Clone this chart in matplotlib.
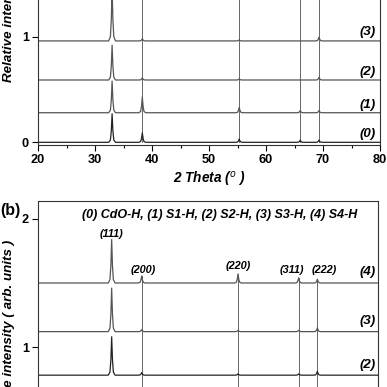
import matplotlib
matplotlib.use("Agg")
import matplotlib.pyplot as plt
import numpy as np

plt.rcParams['font.family'] = ['Liberation Sans', 'DejaVu Sans']

# ---- data ----
peak_pos = [33.0, 38.3, 55.3, 66.0, 69.3]
hkl = ['(111)', '(200)', '(220)', '(311)', '(222)']

# panel (a): offsets and peak heights per trace
a_labels = ['(0)', '(1)', '(2)', '(3)']
a_offsets = [0.0, 0.28, 0.59, 0.96]
a_heights = [
    [0.27, 0.09, 0.03, 0.02, 0.02],
    [0.30, 0.15, 0.05, 0.02, 0.02],
    [0.33, 0.02, 0.01, 0.00, 0.025],
    [0.50, 0.02, 0.01, 0.00, 0.035],
]
a_label_y = [0.079, 0.353, 0.666, 1.045]

# panel (b)
b_labels = ['(2)', '(3)', '(4)']
b_offsets = [0.78, 1.12, 1.50]
b_heights = [
    [0.30, 0.02, 0.01, 0.01, 0.03],
    [0.34, 0.015, 0.01, 0.01, 0.03],
    [0.34, 0.055, 0.07, 0.04, 0.03],
]
b_label_y = [0.86, 1.203, 1.586]
hkl_x = [33.0, 38.5, 55.3, 64.8, 70.6]
hkl_y = [1.88, 1.60, 1.63, 1.60, 1.60]
b_title = '(0) CdO-H, (1) S1-H, (2) S2-H, (3) S3-H, (4) S4-H'

# peak shape (style)
shape_dx = [-0.6, -0.3, -0.14, 0.0, 0.14, 0.3, 0.6]
shape_fr = [0.0, 0.08, 0.4, 1.0, 0.4, 0.08, 0.0]


def trace(offset, heights, x0=20, x1=80):
    xs = [x0]
    ys = [offset]
    for p, h in zip(peak_pos, heights):
        for dx, fr in zip(shape_dx, shape_fr):
            xs.append(p + dx)
            ys.append(offset + h * fr)
    xs.append(x1)
    ys.append(offset)
    return xs, ys


W, H = 387, 387
fig = plt.figure(figsize=(W / 100, H / 100), dpi=100)


def ax_rect(left, right, top, bottom):
    return [left / W, 1 - bottom / H, (right - left) / W, (bottom - top) / H]


TXT = dict(fontweight='bold', fontstyle='italic')
TRACE_C = '#555555'
VLINE_C = '#666666'

# --- panel (a) ---
a_ymin = -2.7 / 105.6
a_ymax = 1.6
a_top_px = 142.3 - a_ymax * 105.6
axa = fig.add_axes(ax_rect(38, 380, a_top_px, 145))
axa.set_xlim(20, 80)
axa.set_ylim(a_ymin, a_ymax)
for p in peak_pos[1:]:
    axa.plot([p, p], [0, a_ymax], color=VLINE_C, lw=0.7, zorder=1)
for i, (off, hs) in enumerate(zip(a_offsets, a_heights)):
    xs, ys = trace(off, hs)
    axa.plot(xs, ys, color='#222222' if i == 0 else TRACE_C, lw=0.9, zorder=2)
for lab, ly in zip(a_labels, a_label_y):
    axa.text(79.3, ly, lab, ha='right', va='center', fontsize=9.5, **TXT)
axa.set_xticks([20, 30, 40, 50, 60, 70, 80])
axa.set_xticks([25, 35, 45, 55, 65, 75], minor=True)
axa.set_yticks([0, 1])
axa.tick_params(axis='both', which='major', direction='out', length=4, width=0.8,
                labelsize=9.2, pad=2.5)
axa.tick_params(axis='both', which='minor', direction='out', length=2.5, width=0.8)
for lbl in axa.get_xticklabels() + axa.get_yticklabels():
    lbl.set_fontweight('bold')
axa.set_xlabel(r'2 Theta ($^{o}$ )', fontsize=9.8, labelpad=3, **TXT)
fig.text(9 / W, 1 - 82 / H, 'Relative intensity ( arb. units )', rotation=90,
         ha='center', va='bottom', fontsize=9.6, **TXT)

# --- panel (b) ---
b_ymax = 1 + (347 - 201) / 128
b_ymin = -0.1
b_bot_px = 347 + (1 - b_ymin) * 128
axb = fig.add_axes(ax_rect(38, 378, 201, b_bot_px))
axb.set_xlim(20, 80)
axb.set_ylim(b_ymin, b_ymax)
for p, h in zip(peak_pos[1:], b_heights[-1][1:]):
    axb.plot([p, p], [b_ymin, b_offsets[-1] + h], color=VLINE_C, lw=0.7, zorder=1)
for i, (off, hs) in enumerate(zip(b_offsets, b_heights)):
    xs, ys = trace(off, hs)
    axb.plot(xs, ys, color='#222222' if i == 0 else TRACE_C, lw=0.9, zorder=2)
for lab, ly in zip(b_labels, b_label_y):
    axb.text(79.5, ly, lab, ha='right', va='center', fontsize=9.5, **TXT)
for lab, hx, hy in zip(hkl, hkl_x, hkl_y):
    axb.text(hx, hy, lab, ha='center', va='center', fontsize=7.8, **TXT)
axb.text(52.1, 2.03, b_title, ha='center', va='center', fontsize=9, **TXT)
axb.set_xticks([20, 30, 40, 50, 60, 70, 80])
axb.set_yticks([1, 2])
axb.tick_params(axis='both', which='major', direction='out', length=4, width=0.8,
                labelsize=9.2, pad=2.5)
axb.tick_params(axis='x', labelbottom=False)
for lbl in axb.get_yticklabels():
    lbl.set_fontweight('bold')
fig.text(9 / W, 1 - 240 / H, 'Relative intensity ( arb. units )', rotation=90,
         ha='center', va='top', fontsize=9.6, **TXT)
fig.text(0 / W, 1 - 210 / H, '(b)', ha='left', va='center', fontsize=11.5,
         fontweight='bold')

for ax in (axa, axb):
    for s in ax.spines.values():
        s.set_linewidth(0.8)
        s.set_color('#333333')

fig.savefig('out.png', dpi=100)
